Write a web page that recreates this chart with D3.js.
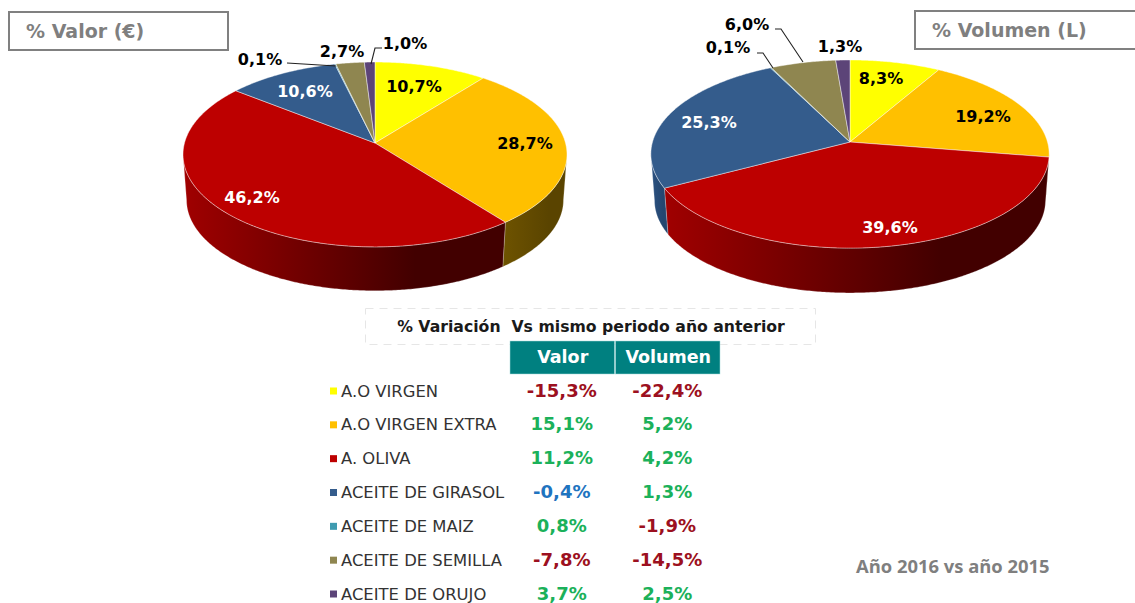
<!DOCTYPE html>
<html>
<head>
<meta charset="utf-8">
<script src="https://cdnjs.cloudflare.com/ajax/libs/d3/7.8.5/d3.min.js"></script>
<style>
  html, body { margin: 0; padding: 0; background: #fff; }
  svg { display: block; }
  text { font-family: "DejaVu Sans", sans-serif; }
</style>
</head>
<body>
<svg id="chart" width="1135" height="603"></svg>
<script>
const categories = ['A.O VIRGEN', 'A.O VIRGEN EXTRA', 'A. OLIVA', 'ACEITE DE GIRASOL', 'ACEITE DE MAIZ', 'ACEITE DE SEMILLA', 'ACEITE DE ORUJO'];
const valorShare = [10.7, 28.7, 46.2, 10.6, 0.1, 2.7, 1.0];
const volumenShare = [8.3, 19.2, 39.6, 25.3, 0.1, 6.0, 1.3];
const valorChange = [-15.3, 15.1, 11.2, -0.4, 0.8, -7.8, 3.7];
const volumenChange = [-22.4, 5.2, 4.2, 1.3, -1.9, -14.5, 2.5];
const tableColumns = ['Valor', 'Volumen'];

const colors = ['#ffff00', '#ffc000', '#bd0000', '#345c8c', '#3f9bb0', '#8f8650', '#5c4478'];
const wallColors = [
  ['#8a8a00', '#6a6a00'],
  ['#6e5300', '#5a4400'],
  ['#a00000', '#420000'],
  ['#2c5282', '#24466f'],
  ['#2f7a8c', '#2f7a8c'],
  ['#6e683e', '#6e683e'],
  ['#46345c', '#46345c']
];
const labelColors = ['#000', '#000', '#fff', '#fff', '#000', '#000', '#000'];

const svg = d3.select('#chart');
const defs = svg.append('defs');
const fmt = (v) => v.toFixed(1).replace('.', ',') + '%';

// pie with a bit of perspective: front of the disc is bigger than the back
function drawPie(id, values, cfg) {
  const g = svg.append('g');
  const arcs = d3.pie().sort(null).value((d) => d)(values);

  // a = clockwise from 12 o'clock, s = radius scale, dy = drop for the bottom disc
  const project = (a, s, dy) => {
    const u = Math.sin(a) * s;
    const v = -Math.cos(a) * s;
    const w = 1 / (1 - cfg.k * v);
    return [cfg.cx + cfg.rx * u * w, cfg.cy + cfg.ry * v * w + dy];
  };
  const samples = (a0, a1) => {
    const n = Math.max(2, Math.ceil((a1 - a0) / 0.01));
    return d3.range(n + 1).map((i) => a0 + ((a1 - a0) * i) / n);
  };
  const line = d3.line();

  // only the front of the wall can be seen
  const frontStart = Math.PI / 2 + Math.asin(cfg.k);
  const frontEnd = 2 * Math.PI - frontStart;

  arcs.forEach((d, i) => {
    const a0 = Math.max(d.startAngle, frontStart);
    const a1 = Math.min(d.endAngle, frontEnd);
    if (a1 <= a0) return;
    const top = samples(a0, a1).map((a) => project(a, 1, 0));
    const bottom = samples(a0, a1).reverse().map((a) => project(a, cfg.bottomScale, cfg.depth));
    const pts = top.concat(bottom);
    const xs = d3.extent(pts, (p) => p[0]);
    const gradId = id + '-wall-' + i;
    const grad = defs.append('linearGradient')
      .attr('id', gradId)
      .attr('gradientUnits', 'userSpaceOnUse')
      .attr('x1', xs[0]).attr('x2', xs[1])
      .attr('y1', 0).attr('y2', 0);
    grad.append('stop').attr('offset', 0).attr('stop-color', wallColors[i][0]);
    grad.append('stop').attr('offset', 0.72).attr('stop-color', wallColors[i][1]);
    grad.append('stop').attr('offset', 1).attr('stop-color', wallColors[i][1]);
    g.append('path')
      .attr('d', line(pts) + 'Z')
      .style('fill', 'url(#' + gradId + ')')
      .style('stroke', '#fff')
      .style('stroke-opacity', 0.35)
      .style('stroke-width', 0.7);
  });

  // top faces
  arcs.forEach((d, i) => {
    const pts = [[cfg.cx, cfg.cy]].concat(samples(d.startAngle, d.endAngle).map((a) => project(a, 1, 0)));
    g.append('path')
      .attr('d', line(pts) + 'Z')
      .style('fill', colors[i])
      .style('stroke', '#fff')
      .style('stroke-opacity', 0.55)
      .style('stroke-width', 0.8)
      .style('stroke-linejoin', 'round');
  });

  //leader lines
  cfg.leaders.forEach((pts) => {
    g.append('path')
      .attr('d', line(pts))
      .style('fill', 'none')
      .style('stroke', '#222')
      .style('stroke-width', 1.1);
  });

  //data labels, the tiny maiz slice keeps its own callout
  values.forEach((v, i) => {
    g.append('text')
      .attr('x', cfg.labelPos[i][0])
      .attr('y', cfg.labelPos[i][1])
      .attr('text-anchor', 'middle')
      .attr('dominant-baseline', 'central')
      .style('font-size', '16px')
      .style('font-weight', 'bold')
      .style('fill', labelColors[i])
      .text(fmt(v));
  });
}

drawPie('valor', valorShare, {
  cx: 375, cy: 143, rx: 190.5, ry: 91, k: 0.124, depth: 46, bottomScale: 0.982,
  labelPos: [[414, 86], [525, 143], [252, 197], [305, 91], [260, 59], [342, 51], [405, 43]],
  leaders: [[[287, 63], [336, 66]], [[382, 48], [375, 48], [371, 64]]]
});

drawPie('volumen', volumenShare, {
  cx: 850, cy: 142, rx: 197.5, ry: 92.5, k: 0.128, depth: 47, bottomScale: 0.982,
  labelPos: [[881, 78], [983, 116], [890, 227], [709, 122], [728, 47], [747, 24], [840, 46]],
  leaders: [[[757, 53], [763, 53], [773, 68]], [[775, 29], [781, 29], [803, 62]]]
});

// boxes with the pie titles
function titleBox(x, y, w, h, tx, label) {
  svg.append('rect')
    .attr('x', x).attr('y', y).attr('width', w).attr('height', h)
    .style('fill', '#fff')
    .style('stroke', '#808080')
    .style('stroke-width', 2);
  svg.append('text')
    .attr('x', tx).attr('y', y + h / 2)
    .attr('dominant-baseline', 'central')
    .style('font-size', '19px')
    .style('font-weight', 'bold')
    .style('fill', '#7f7f7f')
    .text(label);
}
titleBox(9, 12, 219, 38, 26, '% Valor (€)');
titleBox(915, 11, 225, 38, 932, '% Volumen (L)');

// table title
svg.append('rect')
  .attr('x', 365.5).attr('y', 308.5).attr('width', 450).attr('height', 36)
  .style('fill', 'none')
  .style('stroke', '#e6e6e6')
  .style('stroke-dasharray', '8 6');
svg.append('text')
  .attr('x', 591).attr('y', 326)
  .attr('text-anchor', 'middle')
  .attr('dominant-baseline', 'central')
  .style('font-size', '15.7px')
  .style('font-weight', 'bold')
  .style('fill', '#1a1a1a')
  .style('white-space', 'pre')
  .text('% Variación  Vs mismo periodo año anterior');

// table header
const xCol = d3.scaleBand().domain(tableColumns).range([510, 721]).padding(0);
tableColumns.forEach((c) => {
  svg.append('rect')
    .attr('x', xCol(c)).attr('y', 341)
    .attr('width', xCol.bandwidth() - 1).attr('height', 33)
    .style('fill', '#008080')
    .style('stroke', '#a8dcdc')
    .style('stroke-width', 0.5);
  svg.append('text')
    .attr('x', xCol(c) + xCol.bandwidth() / 2).attr('y', 357)
    .attr('text-anchor', 'middle')
    .attr('dominant-baseline', 'central')
    .style('font-size', '17.5px')
    .style('font-weight', 'bold')
    .style('fill', '#fff')
    .text(c);
});

// rows
const yRow = d3.scalePoint().domain(categories).range([391, 594]);
const changeColor = (v) => {
  if (v >= 0) return '#1bb15a';
  if (v > -1) return '#1f74bf';
  return '#9c1020';
};

categories.forEach((c, i) => {
  svg.append('rect')
    .attr('x', 330).attr('y', yRow(c) - 3.5)
    .attr('width', 7).attr('height', 7)
    .style('fill', colors[i]);
  svg.append('text')
    .attr('x', 341).attr('y', yRow(c))
    .attr('dominant-baseline', 'central')
    .style('font-size', '16.4px')
    .style('fill', '#333')
    .text(c);
  [valorChange[i], volumenChange[i]].forEach((v, j) => {
    svg.append('text')
      .attr('x', xCol(tableColumns[j]) + xCol.bandwidth() / 2 - 1)
      .attr('y', yRow(c) - 1)
      .attr('text-anchor', 'middle')
      .attr('dominant-baseline', 'central')
      .style('font-size', '18px')
      .style('font-weight', 'bold')
      .style('fill', changeColor(v))
      .text(fmt(v));
  });
});

// note at the bottom right
svg.append('text')
  .attr('x', 856).attr('y', 565)
  .attr('dominant-baseline', 'central')
  .style('font-family', '"Open Sans", sans-serif')
  .style('font-size', '18.4px')
  .style('font-weight', 'bold')
  .style('fill', '#7f7f7f')
  .text('Año 2016 vs año 2015');
</script>
</body>
</html>
